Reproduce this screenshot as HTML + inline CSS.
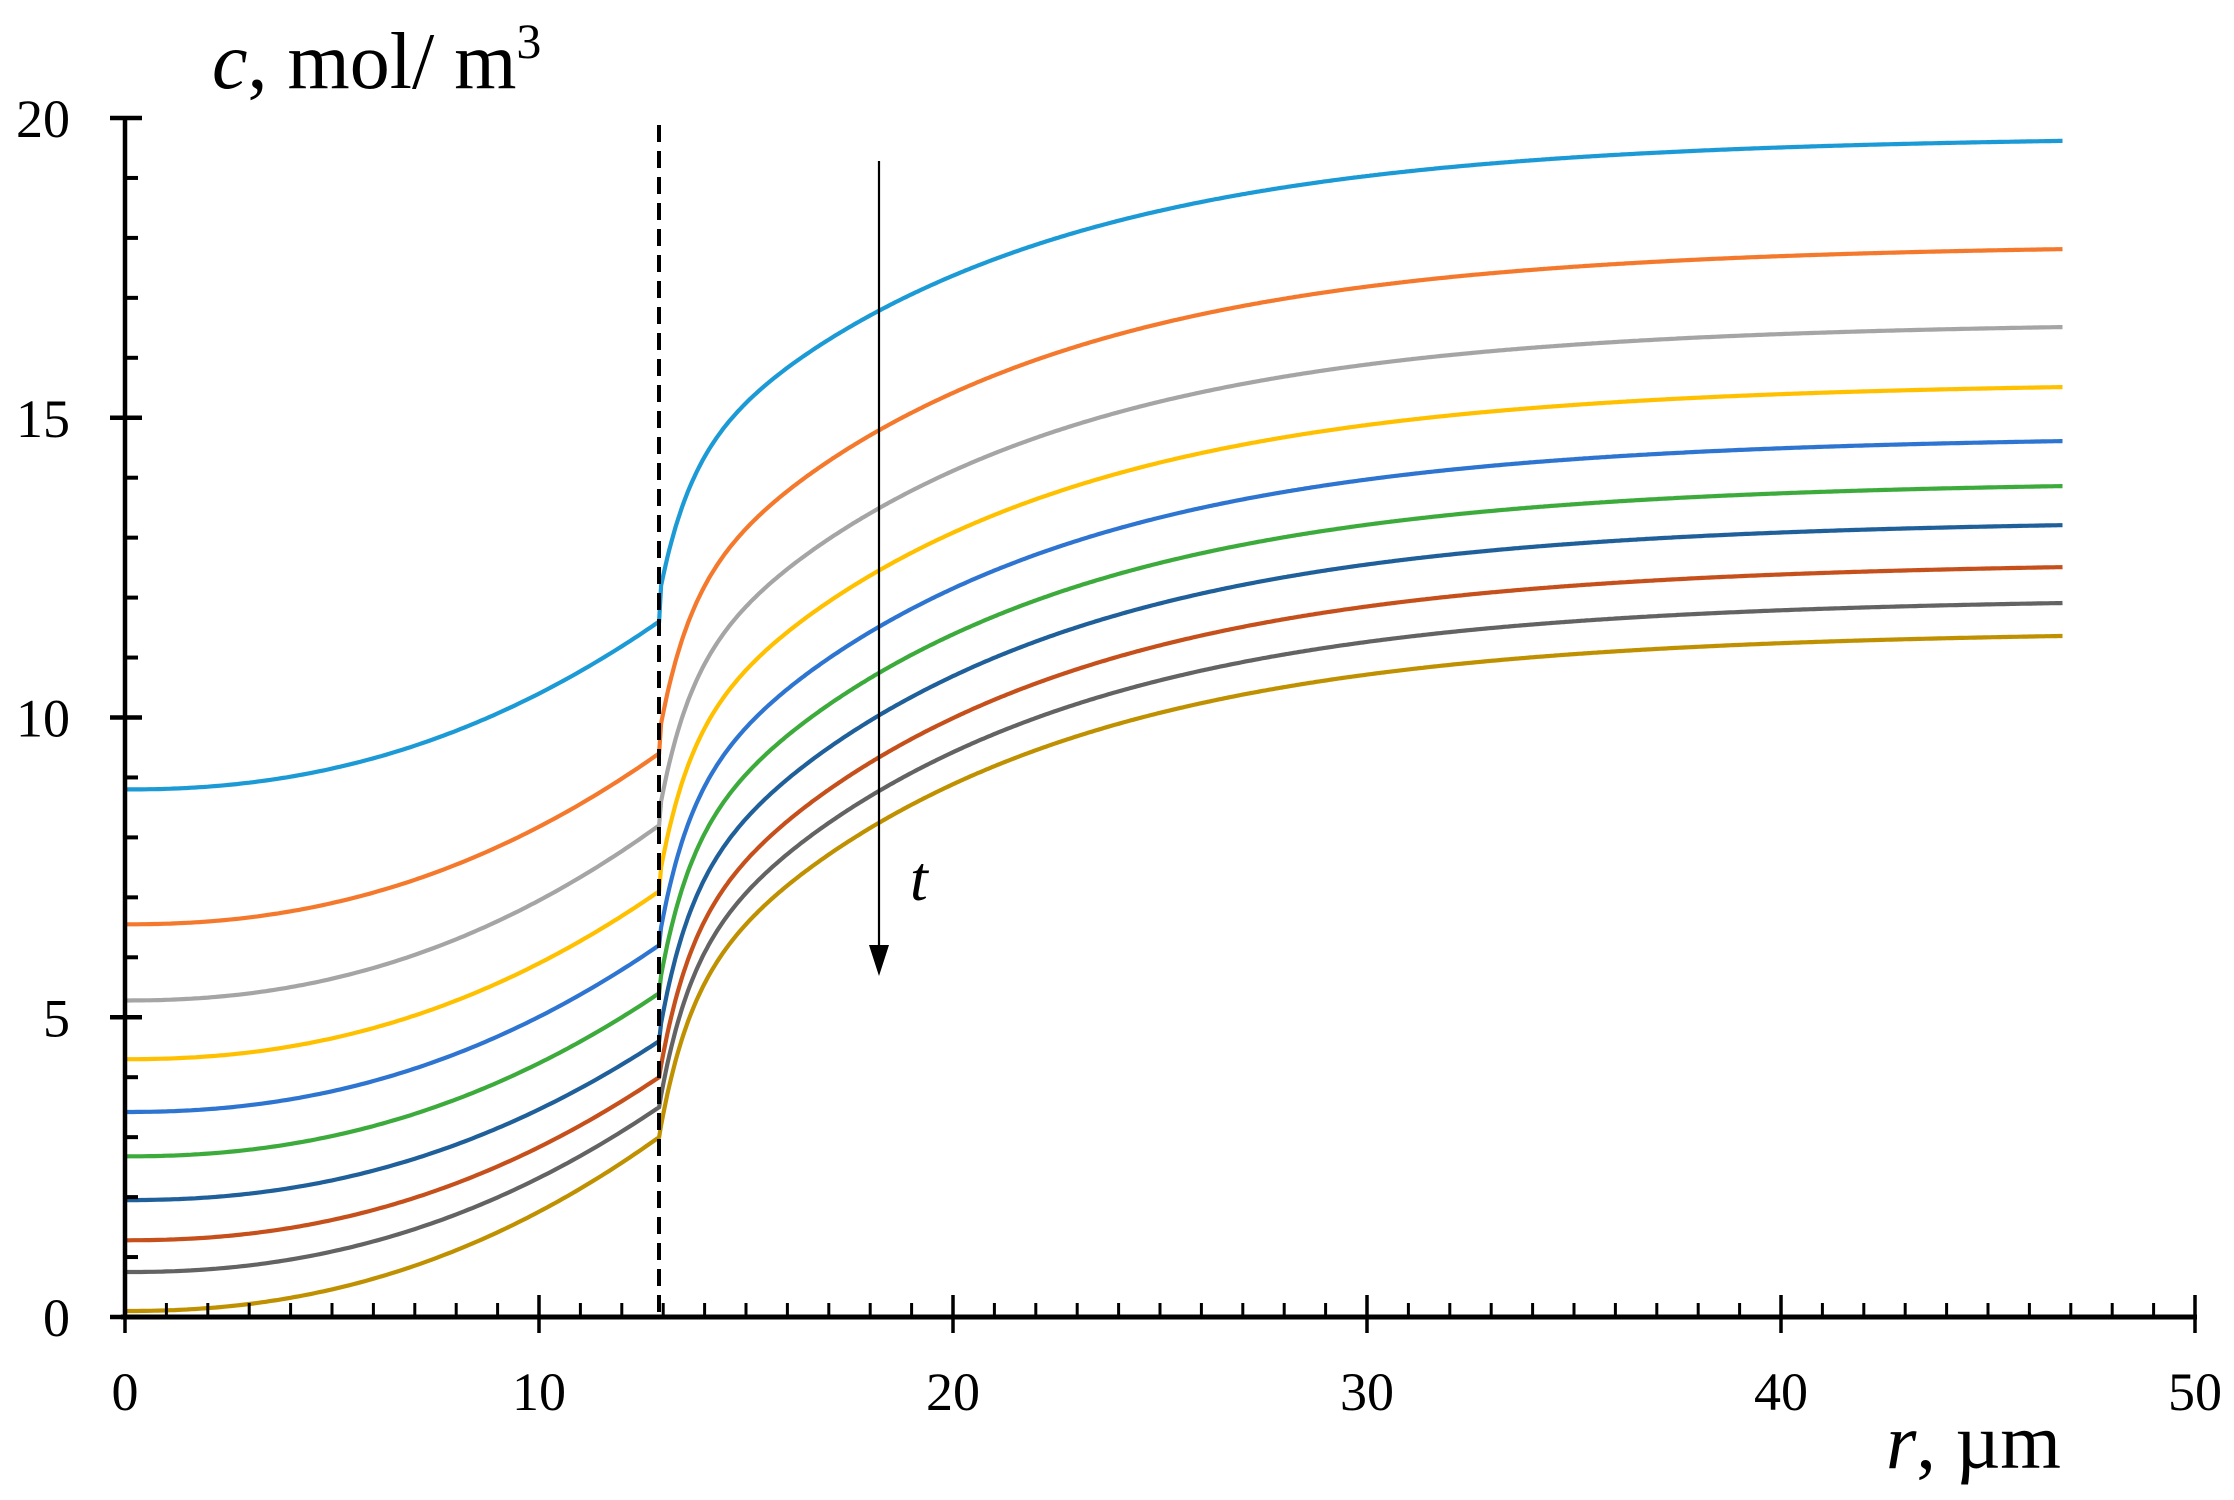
<!DOCTYPE html>
<html><head><meta charset="utf-8"><style>
html,body{margin:0;padding:0;background:#fff}
svg{display:block}
text{font-family:"Liberation Serif",serif;fill:#000}
</style></head><body>
<svg id="s" width="2234" height="1500" viewBox="0 0 2234 1500" xmlns="http://www.w3.org/2000/svg">
<g id="curves" fill="none" stroke-width="4.2"></g>
<line x1="659" y1="125" x2="659" y2="1317" stroke="#000" stroke-width="4" stroke-dasharray="17,9"/>
<line x1="879" y1="161" x2="879" y2="950" stroke="#000" stroke-width="2.2"/>
<polygon points="869,945 889,945 879,976" fill="#000"/>
<text x="910" y="900" font-size="64" font-style="italic">t</text>
<g id="axes" stroke="#000"></g>
<g id="labels" font-size="54"></g>
<text x="212" y="88" font-size="80"><tspan font-style="italic">c</tspan>, mol/ m<tspan font-size="50" dy="-30">3</tspan></text>
<text x="1886" y="1468" font-size="78"><tspan font-style="italic">r</tspan>, µm</text>
</svg>
<script>
var X=function(r){return 125+41.4*r}, Y=function(c){return 1317-59.95*c};
var ns="http://www.w3.org/2000/svg";
var data=[
["#1b9ad6",8.8,11.6,12.2,19.7],
["#f4792c",6.55,9.4,9.9,17.9],
["#a5a5a5",5.28,8.2,8.6,16.6],
["#ffc000",4.3,7.1,7.5,15.6],
["#2e75d1",3.42,6.2,6.5,14.7],
["#3cab3c",2.68,5.4,5.7,13.95],
["#1f5f9a",1.95,4.6,4.9,13.3],
["#c5501b",1.28,4.0,4.2,12.6],
["#636363",0.75,3.5,3.7,12.0],
["#bf9000",0.1,3.0,3.2,11.45]];
var g=document.getElementById("curves");
data.forEach(function(d){
 var p="",r,c;
 for(r=0;r<=12.9;r+=0.1){c=d[1]+(d[2]-d[1])*Math.pow(r/12.9,2.2);p+=(p?"L":"M")+X(r).toFixed(1)+","+Y(c).toFixed(1);}
 var D=d[4]-d[3],A=D*0.75,B=D*0.25;
 for(r=12.95;r<=46.8;r+=0.05){var u=r-12.95;c=d[4]-A*Math.exp(-u/8)-B*Math.exp(-u/0.7);p+="L"+X(r).toFixed(1)+","+Y(c).toFixed(1);}
 var e=document.createElementNS(ns,"path");e.setAttribute("d",p);e.setAttribute("stroke",d[0]);g.appendChild(e);
});
var a=document.getElementById("axes"),l=document.getElementById("labels");
function ln(x1,y1,x2,y2,w){var e=document.createElementNS(ns,"line");e.setAttribute("x1",x1);e.setAttribute("y1",y1);e.setAttribute("x2",x2);e.setAttribute("y2",y2);e.setAttribute("stroke-width",w);a.appendChild(e);}
function tx(x,y,s,anc){var e=document.createElementNS(ns,"text");e.setAttribute("x",x);e.setAttribute("y",y);e.setAttribute("text-anchor",anc);e.textContent=s;l.appendChild(e);}
ln(125,116,125,1319,4.5);ln(121,1317,2197,1317,5);
for(var i=0;i<=20;i++){var y=Y(i);if(i%5==0){ln(110,y,142,y,4.5);tx(70,y+19,""+i,"end");}else ln(125,y,138,y,4);}
for(var i=0;i<=50;i++){var x=X(i);if(i%10==0){ln(x,1295,x,1333,3.5);tx(x,1410,""+i,"middle");}else ln(x,1303,x,1317,3);}
</script>
</body></html>
